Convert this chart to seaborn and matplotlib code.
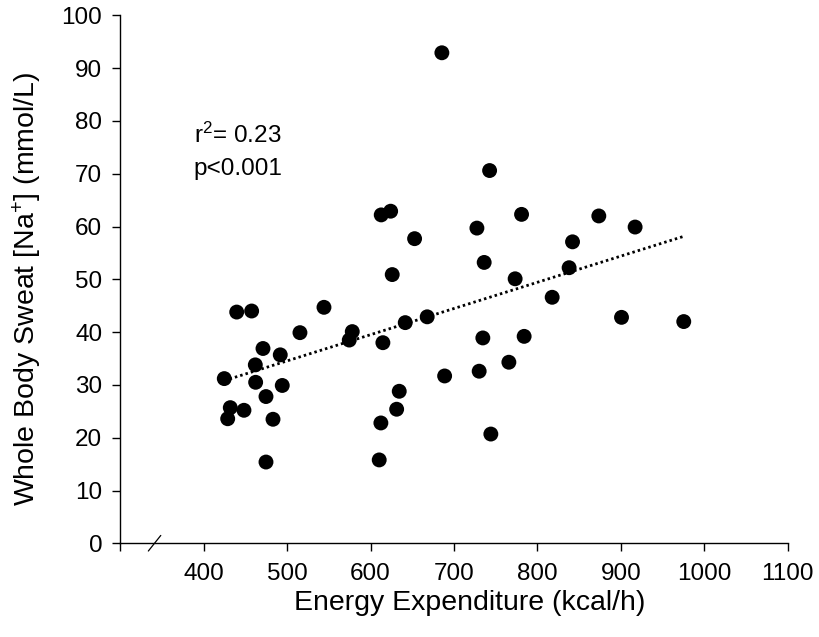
import seaborn as sns
import matplotlib.pyplot as plt
import pandas as pd

# Energy expenditure (kcal/h) vs whole body sweat sodium (mmol/L)
energy = [685.5, 742.7, 612.8, 624.1, 652.8, 626.0, 727.5, 781.0, 873.6, 917.1,
          842.1, 736.2, 838.0, 773.3, 817.7, 900.8, 975.4, 734.6, 784.1, 765.8,
          730.2, 688.8, 744.2, 439.6, 457.5, 544.2, 515.4, 578.1, 574.5, 614.8,
          641.6, 667.9, 471.1, 491.8, 461.9, 424.7, 462.3, 494.2, 474.7, 431.9,
          448.3, 428.8, 483.1, 474.7, 610.4, 612.4, 631.3, 634.4]
sodium = [92.9, 70.6, 62.2, 62.9, 57.7, 50.9, 59.7, 62.3, 62.0, 59.9,
          57.1, 53.2, 52.2, 50.1, 46.6, 42.8, 42.0, 38.9, 39.2, 34.3,
          32.6, 31.7, 20.7, 43.8, 44.0, 44.7, 39.9, 40.1, 38.5, 38.0,
          41.8, 42.9, 36.9, 35.7, 33.8, 31.2, 30.5, 29.9, 27.8, 25.7,
          25.2, 23.6, 23.5, 15.4, 15.8, 22.8, 25.4, 28.8]

x_ticks = list(range(300, 1101, 100))
x_ticklabels = [''] + [str(t) for t in x_ticks[1:]]
y_ticks = list(range(0, 101, 10))

df = pd.DataFrame({'energy': energy, 'sodium': sodium})

sns.set_style('ticks')
plt.rcParams['font.family'] = ['Liberation Sans', 'DejaVu Sans']
plt.rcParams['mathtext.fontset'] = 'custom'
plt.rcParams['mathtext.rm'] = 'Liberation Sans'
plt.rcParams['mathtext.it'] = 'Liberation Sans'
plt.rcParams['text.color'] = 'black'
plt.rcParams['axes.labelcolor'] = 'black'

fig = plt.figure(figsize=(8.19, 6.37), dpi=100)
ax = fig.add_axes([0.1468, 0.147, 0.815, 0.829])

sns.scatterplot(data=df, x='energy', y='sodium', ax=ax, color='black',
                s=115, edgecolor='none', zorder=3)
sns.regplot(data=df, x='energy', y='sodium', ax=ax, scatter=False, ci=None,
            line_kws={'color': 'black', 'linewidth': 2,
                      'linestyle': (0, (0.9, 1.1)), 'zorder': 2})

ax.set_xlim(300, 1100)
ax.set_ylim(0, 100)
ax.set_xticks(x_ticks)
ax.set_xticklabels(x_ticklabels)
ax.set_yticks(y_ticks)

ax.tick_params(axis='both', direction='out', length=6, width=1, color='black',
               labelsize=17.5, labelcolor='black')
ax.tick_params(axis='x', pad=8)
ax.tick_params(axis='y', pad=7)

for side in ['top', 'right']:
    ax.spines[side].set_visible(False)
for side in ['left', 'bottom']:
    ax.spines[side].set_color('black')
    ax.spines[side].set_linewidth(1)

ax.set_xlabel('Energy Expenditure (kcal/h)', fontsize=20.5)
ax.set_ylabel('Whole Body Sweat [Na$^{+}$] (mmol/L)', fontsize=20.5)
ax.xaxis.set_label_coords(0.524, -0.089)
ax.yaxis.set_label_coords(-0.114, 0.481)

# axis break mark
ax.plot([333.7, 348.6], [-1.45, 1.5], color='black', linewidth=0.9, clip_on=False)

ax.text(388, 75.8, 'r$^{2}$= 0.23', fontsize=17.5, va='baseline', ha='left')
ax.text(388, 69.7, 'p<0.001', fontsize=17.5, va='baseline', ha='left')

fig.savefig('out.png', dpi=100)
